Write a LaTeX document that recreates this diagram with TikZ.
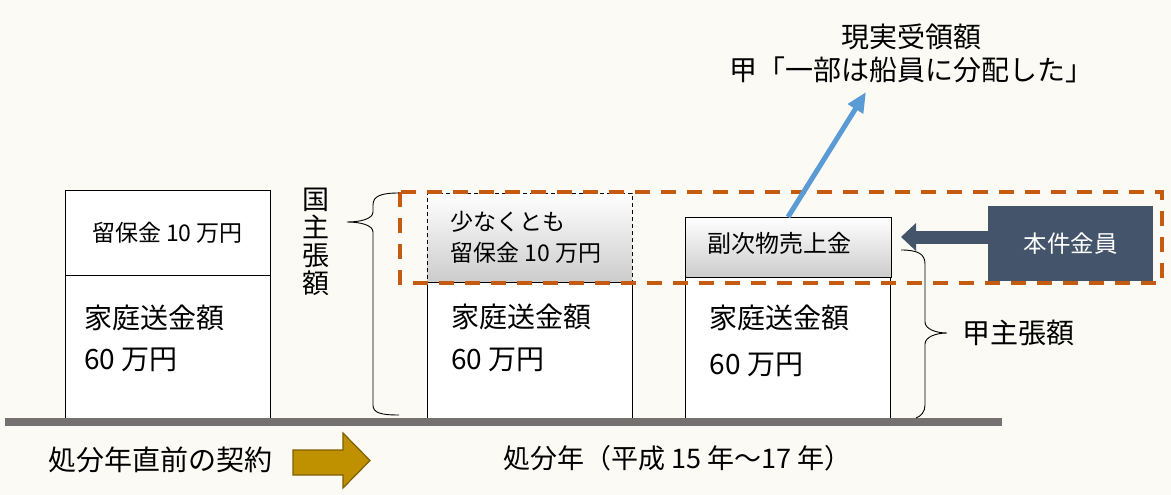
\documentclass[tikz,border=0pt]{standalone}
\usepackage{fontspec}
\setmainfont{Noto Sans CJK JP}
\usepackage{xcolor}
\usepackage{tikz}
\usetikzlibrary{calc,positioning,arrows.meta}
\definecolor{bgcream}{HTML}{FBFAF5}
\definecolor{dashorange}{HTML}{C55A11}
\definecolor{slatebox}{HTML}{44546A}
\definecolor{skyarrow}{HTML}{5B9BD5}
\definecolor{goldarrow}{HTML}{BF9000}
\definecolor{goldedge}{HTML}{7F6000}
\definecolor{groundgray}{HTML}{767171}

\begin{document}
\begin{tikzpicture}[x=1pt,y=-1pt,
		box/.style={draw=black,fill=white,line width=0.9pt,inner sep=0pt,outer sep=0pt,minimum width=205pt},
		gradbox/.style={box,top color=white,middle color=white,bottom color=black!20},
		bigtxt/.style={inner sep=0pt,font=\fontsize{28}{33}\selectfont},
		midtxt/.style={inner sep=0pt,font=\fontsize{23}{26}\selectfont},
		brace/.style={draw=black,line width=0.9pt}]
		\fill[bgcream] (0,0) rectangle (1171,495);
		\useasboundingbox (0,0) rectangle (1171,495);
		\node[box,minimum height=85pt] (ltop) at (167.5,232.5) {};
		\node[box,minimum height=145pt,below=0pt of ltop] (lbot) {};
			\node[gradbox,dashed,dash pattern=on 4pt off 3pt,minimum height=89pt] (mtop) at (529.5,237.5) {};
			\node[box,minimum height=138pt,below=0pt of mtop] (mbot) {};
				\node[gradbox,minimum width=206pt,minimum height=60pt] (rtop) at (788,247) {};
				\node[box,minimum height=143pt,below=0pt of rtop] (rbot) {};
		\draw[groundgray,line width=8pt] (5,422) -- (1002,422);
		\draw[dashorange,line width=4.5pt,dash pattern=on 15pt off 11pt] (400,192) rectangle (1162,283);
		\node[fill=slatebox,minimum width=165pt,minimum height=75pt,inner sep=0pt,text=white,font=\fontsize{23.5}{28}\selectfont] (kin) at (1070.5,243.5) {本件金員};
		\coordinate (kintip) at (901,237);
		\draw[slatebox,line width=13pt,-{Triangle[length=15pt,width=27pt]}] (kin.west |- kintip) -- (kintip);
		\coordinate (realtip) at (866,92);
		\draw[skyarrow,line width=5pt,-{Triangle[length=20pt,width=17pt]}] (rtop.north) -- (realtip);
		\node[bigtxt,align=center] (realtxt) at (911,53) {現実受領額\\甲「一部は船員に分配した」};
		\node[midtxt] (ltoptxt) at (ltop) {留保金 10 万円};
		\node[bigtxt,anchor=west] (lsend) at ($(lbot.north west)+(19,43)$) {家庭送金額};
		\node[bigtxt,anchor=west] (lsixty) at ($(lsend.west)+(0,42)$) {60 万円};
			\node[midtxt,anchor=west] (mleast) at ($(mtop.north west)+(23,29)$) {少なくとも};
			\node[midtxt,anchor=west] (mkeep) at ($(mleast.west)+(0,31)$) {留保金 10 万円};
			\node[bigtxt,anchor=west] (msend) at ($(mbot.north west)+(24,35)$) {家庭送金額};
			\node[bigtxt,anchor=west] (msixty) at ($(msend.west)+(0,43)$) {60 万円};
				\node[font=\fontsize{24}{28}\selectfont,inner sep=0pt,anchor=west] (rsale) at ($(rtop.north west)+(22,26)$) {副次物売上金};
				\node[bigtxt,anchor=west] (rsend) at ($(rbot.north west)+(24,41)$) {家庭送金額};
				\node[bigtxt,anchor=west] (rsixty) at ($(rsend.west)+(0,47)$) {60 万円};
		\node[inner sep=0pt,align=center,font=\fontsize{27}{28}\selectfont] (kokutxt) at (316,242) {国\\主\\張\\額};
		\draw[brace] (399,193) .. controls (381,193) and (373,196) .. (373,205) -- (373,212) .. controls (373,219) and (360,222) .. (347,222) .. controls (360,222) and (373,225) .. (373,232) -- (373,405) .. controls (373,413) and (381,415) .. (399,415);
		\draw[brace] (901,250) .. controls (918,250) and (925,254) .. (925,264) -- (925,322) .. controls (925,329) and (936,333) .. (947,333) .. controls (936,333) and (925,337) .. (925,344) -- (925,405) .. controls (925,412) and (921,416) .. (916,418);
		\node[bigtxt,anchor=west] (kotxt) at (962,333) {甲主張額};
		\filldraw[fill=goldarrow,draw=goldedge,line width=1.2pt] (293,450) -- (343,450) -- (343,433) -- (370,460.5) -- (343,488) -- (343,475) -- (293,475) -- cycle;
		\node[bigtxt,anchor=west] (prevtxt) at (48,460) {処分年直前の契約};
		\node[inner sep=0pt,font=\fontsize{27}{32}\selectfont,anchor=west] (yeartxt) at (503,458) {処分年（平成 15 年～17 年）};
	\end{tikzpicture}
\end{document}
